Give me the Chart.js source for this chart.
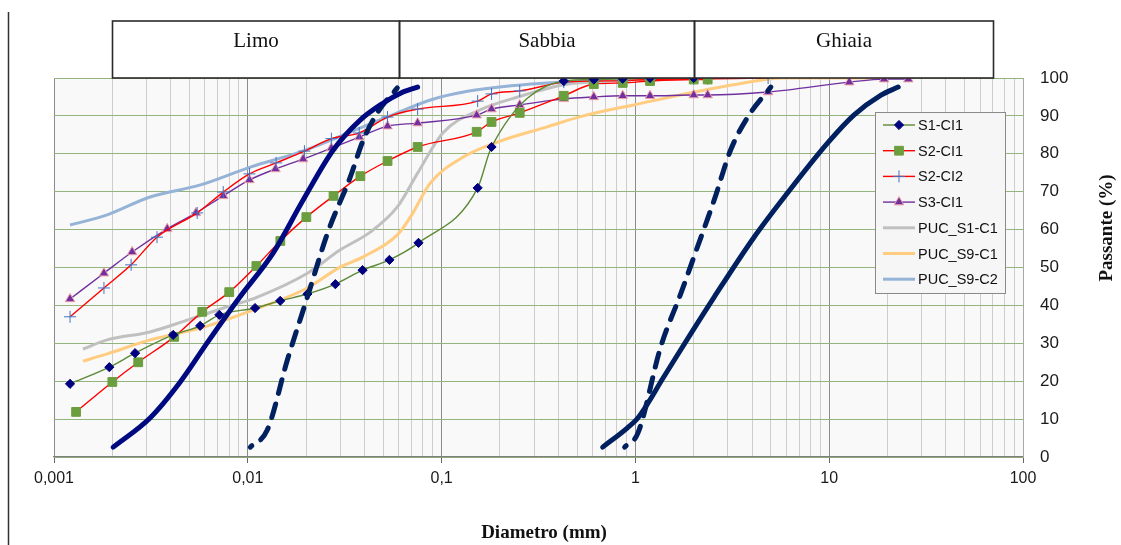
<!DOCTYPE html>
<html>
<head>
<meta charset="utf-8">
<title>Curve granulometriche</title>
<script src="https://cdn.jsdelivr.net/npm/chart.js@4.4.0/dist/chart.umd.min.js"></script>
<style>
  html, body { margin: 0; padding: 0; background: #fff; }
  #wrap { width: 1121px; height: 545px; position: relative; }
</style>
</head>
<body>
<div id="wrap"><canvas id="grain"></canvas></div>
<script>
// x axis: decades and their labels (log scale, mm)
const xDecades = [0.001, 0.01, 0.1, 1, 10, 100];
const xTickLabels = ['0,001', '0,01', '0,1', '1', '10', '100'];

// soil classes drawn in the header boxes
const zoneNames = ['Limo', 'Sabbia', 'Ghiaia'];
const zoneEdges = [0.002, 0.06, 2, 70];

// samples (diameter mm / passing %)
const s1ci1D = [0.00121, 0.00193, 0.00262, 0.00412, 0.00568, 0.00713, 0.0109, 0.0147, 0.0203, 0.0283, 0.0391, 0.0538, 0.076, 0.1535, 0.181, 0.427, 0.61, 0.86, 1.19, 2.0];
const s1ci1P = [19.3, 23.7, 27.4, 32.2, 34.6, 37.5, 39.3, 41.2, 43.0, 45.6, 49.3, 52.0, 56.5, 71.0, 81.8, 99.2, 99.6, 99.8, 100, 100];

const s2ci1D = [0.0013, 0.002, 0.00272, 0.00417, 0.00582, 0.00802, 0.01107, 0.01472, 0.02005, 0.0277, 0.0381, 0.0526, 0.0752, 0.1517, 0.181, 0.253, 0.427, 0.61, 0.86, 1.19, 2.0, 2.36];
const s2ci1P = [11.9, 19.8, 25.0, 31.7, 38.3, 43.5, 50.4, 57.0, 63.3, 68.9, 74.1, 78.1, 81.8, 85.8, 88.4, 90.8, 95.3, 98.4, 98.7, 99.2, 99.6, 99.6];

const s2ci2D = [0.00121, 0.00181, 0.0025, 0.0034, 0.00548, 0.00747, 0.0102, 0.014, 0.0196, 0.027, 0.0376, 0.0526, 0.0752, 0.1535, 0.181, 0.253, 0.427, 0.61, 0.86, 1.19, 2.0, 2.36, 4.84];
const s2ci2P = [37.0, 44.6, 50.7, 58.0, 64.4, 69.9, 74.7, 77.6, 80.7, 84.0, 85.5, 89.7, 91.8, 93.9, 95.8, 96.6, 98.9, 99.2, 99.3, 99.6, 99.8, 99.8, 100];

const s3ci1D = [0.00121, 0.00181, 0.00253, 0.00384, 0.0054, 0.00747, 0.0102, 0.0139, 0.0193, 0.027, 0.0376, 0.0526, 0.0752, 0.1517, 0.181, 0.253, 0.427, 0.61, 0.86, 1.19, 2.0, 2.36, 4.84, 12.7, 19.2, 25.6];
const s3ci1P = [41.7, 48.5, 54.1, 60.2, 64.4, 68.9, 73.1, 76.0, 78.6, 81.5, 84.4, 87.3, 88.1, 90.2, 91.8, 92.9, 94.5, 95.0, 95.3, 95.3, 95.5, 95.5, 96.3, 98.9, 99.7, 99.7];

const pucS1c1D = [0.00141, 0.00188, 0.00313, 0.00486, 0.0078, 0.0112, 0.0203, 0.0299, 0.043, 0.0591, 0.0752, 0.1015, 0.158, 0.248, 0.427, 0.64, 1.0, 2.0];
const pucS1c1P = [28.5, 30.9, 33.0, 36.1, 39.6, 42.2, 48.5, 54.6, 59.4, 66.0, 74.9, 85.5, 91.6, 95.0, 98.2, 99.0, 99.6, 100];

const pucS9c1D = [0.00141, 0.00188, 0.00313, 0.0057, 0.0107, 0.0203, 0.0299, 0.0394, 0.0591, 0.069, 0.0875, 0.13, 0.194, 0.35, 0.52, 0.98, 3.2, 5.8, 10, 20];
const pucS9c1P = [25.3, 27.2, 30.9, 34.0, 38.8, 44.6, 50.1, 52.8, 58.6, 63.3, 72.3, 79.2, 83.1, 87.1, 89.8, 92.9, 98.2, 100, 100, 100];

const pucS9c2D = [0.00121, 0.00188, 0.00313, 0.0057, 0.0103, 0.0187, 0.036, 0.0591, 0.0875, 0.13, 0.29, 0.64, 1.0];
const pucS9c2P = [61.2, 63.9, 68.6, 71.8, 76.5, 80.5, 86.3, 90.8, 94.2, 96.3, 98.4, 99.2, 99.6];

// reference envelope curves
const envFineD = [0.00202, 0.00313, 0.00448, 0.00617, 0.0091, 0.0135, 0.0193, 0.0276, 0.038, 0.05, 0.0614, 0.0752];
const envFineP = [2.6, 10.3, 19.8, 30.1, 42.2, 53.8, 67.8, 81.0, 88.9, 93.4, 96.0, 97.6];
const envCoarseD = [0.678, 0.91, 1.03, 1.4, 1.94, 2.55, 4.07, 6.1, 9.8, 13.4, 18.5, 22.7];
const envCoarseP = [2.6, 7.7, 10.3, 21.1, 32.7, 42.2, 57.8, 69.7, 82.8, 90.2, 95.5, 97.6];
const envFineDashD = [0.0103, 0.0126, 0.016, 0.0203, 0.0258, 0.0338, 0.0394, 0.0466, 0.0591];
const envFineDashP = [2.6, 7.1, 25.6, 42.2, 59.1, 73.9, 83.6, 90.8, 97.4];
const envCoarseDashD = [0.88, 1.03, 1.35, 1.72, 2.09, 2.55, 3.1, 3.8, 5.0];
const envCoarseDashP = [2.6, 6.3, 29, 43.3, 55.4, 67.8, 81, 89.7, 97.6];

const pts = (d, p) => d.map((x, i) => ({ x, y: p[i] }));

const sample = (label, d, p, color, extra) => Object.assign({
  label,
  data: pts(d, p),
  borderColor: color,
  borderWidth: 1.4,
  cubicInterpolationMode: 'monotone',
  inLegend: true,
}, extra);

const envelope = (d, p, color, dashed) => ({
  label: '',
  data: pts(d, p),
  borderColor: color,
  borderWidth: 5,
  borderCapStyle: 'round',
  borderJoinStyle: 'round',
  borderDash: dashed ? [14, 11] : [],
  borderDashOffset: dashed ? 12 : 0,
  pointRadius: 0,
  cubicInterpolationMode: 'monotone',
  order: -1,
  inLegend: false,
});

const datasets = [
  sample('S1-CI1', s1ci1D, s1ci1P, '#5c8a36', {
    pointStyle: 'rectRot', pointRadius: 4.6,
    pointBackgroundColor: '#000080', pointBorderColor: '#000080', pointBorderWidth: 1,
  }),
  sample('S2-CI1', s2ci1D, s2ci1P, '#ff0000', {
    pointStyle: 'rect', pointRadius: 6.2,
    pointBackgroundColor: '#6b9e3e', pointBorderColor: '#6b9e3e', pointBorderWidth: 1,
  }),
  sample('S2-CI2', s2ci2D, s2ci2P, '#ff0000', {
    pointStyle: 'cross', pointRadius: 6,
    pointBackgroundColor: '#4472c4', pointBorderColor: '#4472c4', pointBorderWidth: 1,
  }),
  sample('S3-CI1', s3ci1D, s3ci1P, '#7030a0', {
    pointStyle: 'triangle', pointRadius: 5.5,
    pointBackgroundColor: '#7030a0', pointBorderColor: '#f0a0a8', pointBorderWidth: 1,
  }),
  sample('PUC_S1-C1', pucS1c1D, pucS1c1P, '#c0c0c0', { borderWidth: 3, pointRadius: 0 }),
  sample('PUC_S9-C1', pucS9c1D, pucS9c1P, '#ffcc80', { borderWidth: 3, pointRadius: 0 }),
  sample('PUC_S9-C2', pucS9c2D, pucS9c2P, '#95b3d7', { borderWidth: 3, pointRadius: 0 }),
  envelope(envFineD, envFineP, '#000a80', false),
  envelope(envCoarseD, envCoarseP, '#002060', false),
  envelope(envFineDashD, envFineDashP, '#002060', true),
  envelope(envCoarseDashD, envCoarseDashP, '#002060', true),
];

const serif = '"Liberation Serif", "Times New Roman", serif';
const sans = '"Liberation Sans", Arial, sans-serif';

// plot background, header boxes, axis titles, custom legend
const decorations = {
  id: 'decorations',
  beforeDraw(chart) {
    const { ctx, chartArea: a } = chart;
    ctx.save();
    ctx.fillStyle = '#f9f9f9';
    ctx.fillRect(a.left, a.top, a.right - a.left, a.bottom - a.top);
    ctx.restore();
  },
  afterDraw(chart) {
    const { ctx, chartArea: a, scales } = chart;
    const xs = scales.x;
    ctx.save();

    // left frame line
    ctx.strokeStyle = '#333';
    ctx.lineWidth = 1.5;
    ctx.beginPath();
    ctx.moveTo(8.5, 12);
    ctx.lineTo(8.5, 545);
    ctx.stroke();

    // header boxes
    const boxTop = a.top - 57;
    ctx.lineWidth = 1.6;
    ctx.strokeStyle = '#2a2a2a';
    ctx.fillStyle = '#111';
    ctx.font = '21px ' + serif;
    ctx.textAlign = 'center';
    ctx.textBaseline = 'middle';
    for (let i = 0; i < zoneNames.length; i++) {
      const x0 = Math.round(xs.getPixelForValue(zoneEdges[i])) + 0.5;
      const x1 = Math.round(xs.getPixelForValue(zoneEdges[i + 1])) + 0.5;
      ctx.strokeRect(x0, boxTop, x1 - x0, a.top - boxTop);
      ctx.fillText(zoneNames[i], (x0 + x1) / 2, boxTop + 20);
    }

    // axis titles
    ctx.font = 'bold 19px ' + serif;
    ctx.fillText('Diametro (mm)', 544, 533);
    ctx.translate(1107, 228);
    ctx.rotate(-Math.PI / 2);
    ctx.fillText('Passante (%)', 0, 0);
    ctx.setTransform(1, 0, 0, 1, 0, 0);

    // legend
    const items = chart.data.datasets.filter(ds => ds.inLegend);
    const lx = a.right - 148, ly = a.top + 34, lw = 130, lh = 181;
    ctx.fillStyle = '#f6f6f6';
    ctx.fillRect(lx, ly, lw, lh);
    ctx.strokeStyle = '#8a8a8a';
    ctx.lineWidth = 1;
    ctx.strokeRect(lx + 0.5, ly + 0.5, lw, lh);
    ctx.font = '14.5px ' + sans;
    ctx.textAlign = 'left';
    items.forEach((ds, i) => {
      const cy = ly + 13 + i * 25.7;
      ctx.strokeStyle = ds.borderColor;
      ctx.lineWidth = ds.borderWidth;
      ctx.beginPath();
      ctx.moveTo(lx + 8, cy);
      ctx.lineTo(lx + 40, cy);
      ctx.stroke();
      if (ds.pointRadius > 0) {
        ctx.fillStyle = ds.pointBackgroundColor;
        ctx.strokeStyle = ds.pointBorderColor;
        ctx.lineWidth = ds.pointBorderWidth;
        Chart.helpers.drawPoint(ctx, {
          pointStyle: ds.pointStyle,
          radius: ds.pointRadius,
          rotation: 0,
          borderWidth: ds.pointBorderWidth,
        }, lx + 24, cy);
      }
      ctx.fillStyle = '#111';
      ctx.fillText(ds.label, lx + 43, cy + 1);
    });
    ctx.restore();
  },
};

new Chart(document.getElementById('grain'), {
  type: 'line',
  data: { datasets },
  plugins: [decorations],
  options: {
    responsive: true,
    maintainAspectRatio: false,
    animation: false,
    layout: { padding: { left: 54, top: 78, right: 0, bottom: 0 } },
    plugins: {
      legend: { display: false },
      tooltip: { enabled: false },
    },
    scales: {
      x: {
        type: 'logarithmic',
        min: xDecades[0],
        max: xDecades[xDecades.length - 1],
        afterBuildTicks: (scale) => {
          const ticks = [];
          xDecades.forEach((d, i) => {
            if (i === xDecades.length - 1) {
              ticks.push({ value: d, major: true });
              return;
            }
            for (let k = 1; k <= 9; k++) ticks.push({ value: d * k, major: k === 1 });
          });
          scale.ticks = ticks;
        },
        afterFit: (scale) => { scale.height = 88; },
        grid: {
          color: (ctx) => (ctx.tick && ctx.tick.major ? '#8c8c8c' : '#cdcdcd'),
          lineWidth: 1,
          drawTicks: true,
          tickLength: 6,
          tickColor: (ctx) => (ctx.tick && ctx.tick.major ? '#666' : 'rgba(0,0,0,0)'),
        },
        border: { display: true, color: '#7f7f7f', width: 1.2 },
        ticks: {
          autoSkip: false,
          maxRotation: 0,
          padding: 6,
          color: '#1a1a1a',
          font: { family: sans, size: 16 },
          callback: (value, index, ticks) => {
            const i = xDecades.indexOf(ticks[index].value);
            return i >= 0 ? xTickLabels[i] : '';
          },
        },
      },
      y: {
        position: 'right',
        min: 0,
        max: 100,
        afterFit: (scale) => { scale.width = 98; },
        grid: { color: '#94b47e', lineWidth: 1, drawTicks: false },
        border: { display: true, color: '#a8a8a8', width: 1 },
        ticks: {
          stepSize: 10,
          padding: 17,
          color: '#1a1a1a',
          font: { family: sans, size: 17 },
        },
      },
    },
  },
});
</script>
</body>
</html>
